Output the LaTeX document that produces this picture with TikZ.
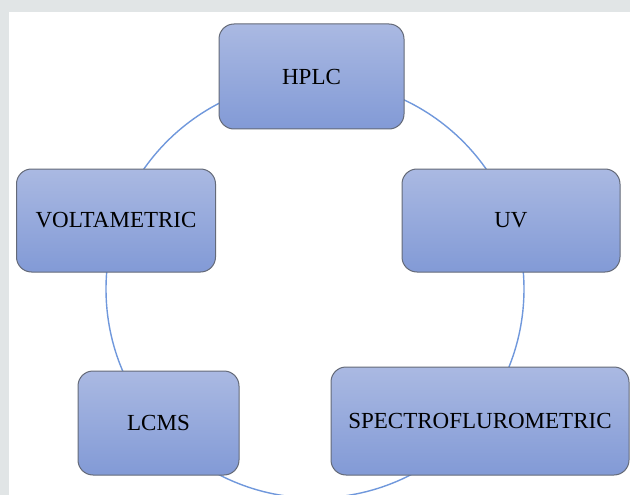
\documentclass[tikz,border=0pt]{standalone}
\usepackage{fontspec}
\setmainfont{Liberation Serif}
\definecolor{bggray}{RGB}{225,229,230}
\definecolor{ringblue}{RGB}{112,152,220}
\definecolor{boxtop}{RGB}{170,185,226}
\definecolor{boxbot}{RGB}{130,154,214}
\definecolor{boxedge}{RGB}{100,106,120}
\tikzset{
  cyclebox/.style={rectangle, rounded corners=15pt, draw=boxedge, line width=1pt,
    top color=boxtop, bottom color=boxbot, inner sep=0pt,
    font=\fontsize{23}{27}\selectfont, text=black},
  ring/.style={draw=ringblue, line width=1.4pt}
}
\begin{document}
\begin{tikzpicture}[x=1pt,y=-1pt]
\useasboundingbox (0,0) rectangle (630,495);
\fill[bggray] (0,0) rectangle (630,495);
\fill[white] (9,12) rectangle (630,495);
\coordinate (c) at (315,289);
\draw[ring] (c) circle[radius=209];
\node[cyclebox, minimum width=185pt, minimum height=105pt] (hplc) at (311.5,76.5) {HPLC};
\node[cyclebox, minimum width=218pt, minimum height=103pt] (uv) at (511,220.5) {UV};
\node[cyclebox, minimum width=298pt, minimum height=108pt] (spec) at (480,421) {SPECTROFLUROMETRIC};
\node[cyclebox, minimum width=161pt, minimum height=104pt] (lcms) at (158.5,423) {LCMS};
\node[cyclebox, minimum width=199pt, minimum height=103pt] (volt) at (116,220.5) {VOLTAMETRIC};
\end{tikzpicture}
\end{document}
